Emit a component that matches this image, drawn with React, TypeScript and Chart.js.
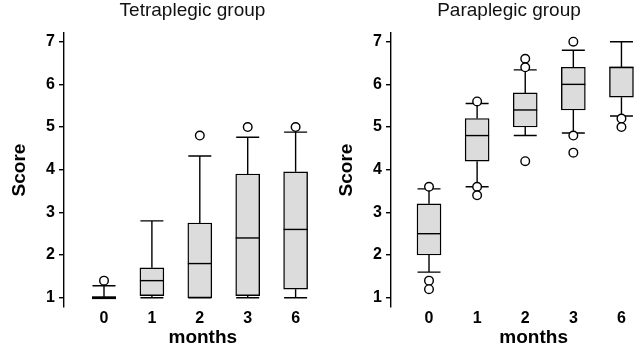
import React, { useEffect, useRef } from "react";
import { Chart, registerables } from "chart.js";
Chart.register(...registerables);

const categories = ["0", "1", "2", "3", "6"];
const yTickValues = [1, 2, 3, 4, 5, 6, 7];

// Tetraplegic group
const tetraLow = [1, 1, 1, 1, 1];
const tetraQ1 = [1, 1.05, 1, 1.05, 1.2];
const tetraMedian = [1, 1.4, 1.8, 2.4, 2.6];
const tetraQ3 = [1, 1.7, 2.75, 3.9, 3.95];
const tetraHigh = [1.28, 2.8, 4.32, 4.76, 4.88];
const tetraOutliers = [[1.4], [], [4.8], [5.0], [5.0]];

// Paraplegic group
const paraLow = [1.6, 3.6, 4.8, 4.86, 5.26];
const paraQ1 = [2.0, 4.2, 5.0, 5.4, 5.7];
const paraMedian = [2.5, 4.8, 5.4, 6.0, 6.4];
const paraQ3 = [3.2, 5.2, 5.8, 6.4, 6.4];
const paraHigh = [3.55, 5.55, 6.34, 6.8, 7.0];
const paraOutliers = [[3.6, 1.4, 1.2], [5.6, 3.6, 3.4], [6.6, 6.4, 4.2], [7.0, 4.8, 4.4], [5.2, 5.0]];

const FONT = "'Liberation Sans', Arial, Helvetica, sans-serif";
const BOX_W = 24;
const CAP_W = 23;
const LW = 1.4;

function makeBoxPlugin(low: number[], q1: number[], med: number[], q3: number[], high: number[]) {
  return {
    id: "boxWhiskers",
    beforeDatasetsDraw(chart: any) {
      const { ctx, scales } = chart;
      const x = scales.x, y = scales.y;
      ctx.save();
      ctx.strokeStyle = "#000";
      ctx.lineWidth = LW;
      for (let i = 0; i < categories.length; i++) {
        const px = x.getPixelForValue(i);
        ctx.beginPath();
        ctx.moveTo(px, y.getPixelForValue(q3[i]));
        ctx.lineTo(px, y.getPixelForValue(high[i]));
        ctx.moveTo(px - CAP_W / 2, y.getPixelForValue(high[i]));
        ctx.lineTo(px + CAP_W / 2, y.getPixelForValue(high[i]));
        ctx.moveTo(px, y.getPixelForValue(q1[i]));
        ctx.lineTo(px, y.getPixelForValue(low[i]));
        ctx.moveTo(px - CAP_W / 2, y.getPixelForValue(low[i]));
        ctx.lineTo(px + CAP_W / 2, y.getPixelForValue(low[i]));
        ctx.stroke();
      }
      ctx.restore();
    },
    afterDatasetDraw(chart: any, args: any) {
      if (args.index !== 0) return;
      const { ctx, scales } = chart;
      const x = scales.x, y = scales.y;
      ctx.save();
      ctx.strokeStyle = "#000";
      for (let i = 0; i < categories.length; i++) {
        const px = x.getPixelForValue(i);
        const py = y.getPixelForValue(med[i]);
        ctx.lineWidth = q1[i] === q3[i] ? 2.8 : LW;
        ctx.beginPath();
        ctx.moveTo(px - BOX_W / 2, py);
        ctx.lineTo(px + BOX_W / 2, py);
        ctx.stroke();
      }
      ctx.restore();
    },
  };
}

type PanelProps = {
  left: number;
  width: number;
  rightPad: number;
  title: string;
  xMin: number;
  xMax: number;
  low: number[];
  q1: number[];
  med: number[];
  q3: number[];
  high: number[];
  outliers: number[][];
};

function Panel(p: PanelProps) {
  const ref = useRef<HTMLCanvasElement | null>(null);
  useEffect(() => {
    if (!ref.current) return;
    const boxData = categories.map((_, i) => ({ x: i, y: [p.q1[i], p.q3[i]] }));
    const outData: { x: number; y: number }[] = [];
    p.outliers.forEach((arr, i) => arr.forEach((v) => outData.push({ x: i, y: v })));
    const chart = new Chart(ref.current, {
      type: "bar",
      data: {
        datasets: [
          {
            type: "bar",
            data: boxData as any,
            backgroundColor: "#dcdcdc",
            borderColor: "#000",
            borderWidth: LW,
            borderSkipped: false,
            barThickness: BOX_W,
            clip: false as any,
          },
          {
            type: "scatter",
            data: outData,
            pointRadius: 4.3,
            pointBackgroundColor: "#fff",
            pointBorderColor: "#000",
            pointBorderWidth: 1.4,
            showLine: false,
            clip: false as any,
          } as any,
        ],
      },
      options: {
        responsive: false,
        animation: false,
        devicePixelRatio: 1,
        layout: { padding: 0 },
        plugins: {
          legend: { display: false },
          tooltip: { enabled: false },
          title: {
            display: true,
            text: p.title,
            color: "#111",
            font: { family: FONT, size: 19, weight: "normal", lineHeight: 0.9 },
            padding: { top: 2.5, bottom: 13.4 },
            fullSize: true,
          },
        },
        scales: {
          x: {
            type: "linear",
            min: p.xMin,
            max: p.xMax,
            offset: false,
            grid: { display: false, drawTicks: false },
            border: { display: false },
            afterBuildTicks: (s: any) => {
              s.ticks = categories.map((_, i) => ({ value: i }));
            },
            afterFit: (s: any) => {
              s.height = 46;
            },
            ticks: {
              color: "#000",
              padding: 2,
              maxRotation: 0,
              autoSkip: false,
              font: { family: FONT, size: 16, weight: "bold" },
              callback: (v: any) => categories[v as number] ?? "",
            },
            title: {
              display: true,
              text: "months",
              color: "#000",
              font: { family: FONT, size: 19, weight: "bold", lineHeight: 1 },
              padding: { top: 0, bottom: 5.5 },
            },
          },
          y: {
            type: "linear",
            position: "left",
            min: 0.782,
            max: 7.204,
            grid: { drawOnChartArea: false, drawTicks: true, tickLength: 5, color: "#000", lineWidth: LW },
            border: { display: true, color: "#000", width: LW },
            afterBuildTicks: (s: any) => {
              s.ticks = yTickValues.map((v) => ({ value: v }));
            },
            afterFit: (s: any) => {
              s.width = 64;
            },
            ticks: {
              color: "#000",
              padding: 4,
              font: { family: FONT, size: 16, weight: "bold" },
            },
            title: {
              display: true,
              text: "Score",
              color: "#000",
              font: { family: FONT, size: 19, weight: "bold", lineHeight: 1 },
              padding: { top: 10, bottom: 0 },
            },
          },
          pad: {
            type: "linear",
            position: "right",
            display: true,
            grid: { display: false, drawTicks: false },
            border: { display: false },
            ticks: { display: false },
            afterFit: (s: any) => {
              s.width = p.rightPad;
            },
          },
        },
      } as any,
      plugins: [makeBoxPlugin(p.low, p.q1, p.med, p.q3, p.high)],
    });
    return () => chart.destroy();
  }, []);
  return (
    <canvas
      ref={ref}
      width={p.width}
      height={353}
      style={{ position: "absolute", left: p.left, top: 0, width: p.width, height: 353, display: "block" }}
    />
  );
}

export default function App() {
  return (
    <div style={{ position: "fixed", left: 0, top: 0, width: 634, height: 353, overflow: "hidden", background: "#fff" }}>
      <Panel
        left={0}
        width={385}
        rightPad={43.4}
        title="Tetraplegic group"
        xMin={-0.835}
        xMax={4.96}
        low={tetraLow}
        q1={tetraQ1}
        med={tetraMedian}
        q3={tetraQ3}
        high={tetraHigh}
        outliers={tetraOutliers}
      />
      <Panel
        left={327}
        width={364}
        rightPad={14.7}
        title="Paraplegic group"
        xMin={-0.79}
        xMax={5.14}
        low={paraLow}
        q1={paraQ1}
        med={paraMedian}
        q3={paraQ3}
        high={paraHigh}
        outliers={paraOutliers}
      />
    </div>
  );
}
